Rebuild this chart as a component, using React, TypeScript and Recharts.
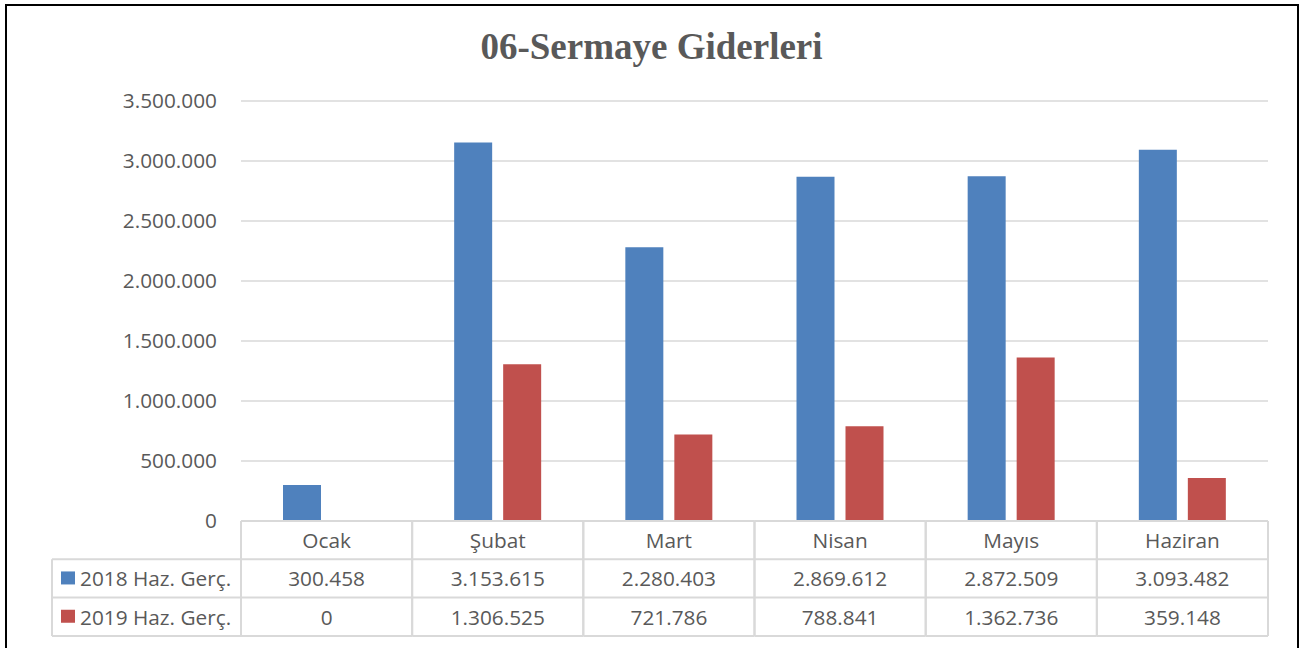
import { BarChart, Bar, XAxis, YAxis, CartesianGrid } from 'recharts';

const MONTHS = ['Ocak', 'Şubat', 'Mart', 'Nisan', 'Mayıs', 'Haziran'];
const HAZ_2018 = [300458, 3153615, 2280403, 2869612, 2872509, 3093482];
const HAZ_2019 = [0, 1306525, 721786, 788841, 1362736, 359148];
const SERIES_NAMES = ['2018 Haz. Gerç.', '2019 Haz. Gerç.'];
const Y_TICKS = [0, 500000, 1000000, 1500000, 2000000, 2500000, 3000000, 3500000];

const COLORS = ['#4F81BD', '#C0504D'];
const TEXT = '#595959';
const LINE = '#d9d9d9';
const FONT = '"Open Sans", "Liberation Sans", sans-serif';
const FONT_SIZE = 20.8;

const W = 1312;
const H = 648;
const MARGIN = { top: 101, right: 44, bottom: 0, left: 161 };
const Y_AXIS_W = 80;
const X_AXIS_H = 127;
const PLOT_W = W - MARGIN.left - MARGIN.right - Y_AXIS_W;
const COL_W = PLOT_W / MONTHS.length;
const ROW_H = 38.3;
const LEGEND_W = 189;

const fmt = (v: number) => String(v).replace(/\B(?=(\d{3})+(?!\d))/g, '.');

const chartData = MONTHS.map((m, i) => ({
  name: m,
  y2018: HAZ_2018[i],
  y2019: HAZ_2019[i],
}));

function TableTick(props: any) {
  const { x, y, payload } = props;
  const i = typeof props.index === 'number' ? props.index : MONTHS.indexOf(payload.value);
  const left = x - COL_W / 2;
  const right = x + COL_W / 2;
  const bottom = y + ROW_H * 3;
  const txt = {
    fill: TEXT,
    fontSize: FONT_SIZE,
    fontFamily: FONT,
    dominantBaseline: 'central' as const,
  };
  const values = [HAZ_2018, HAZ_2019];

  return (
    <g>
      <line x1={left} y1={y} x2={right} y2={y} stroke={LINE} strokeWidth={2} />
      {[1, 2, 3].map((r) => (
        <line key={r} x1={left} y1={y + ROW_H * r} x2={right} y2={y + ROW_H * r} stroke={LINE} strokeWidth={2} />
      ))}
      <line x1={left} y1={y} x2={left} y2={bottom} stroke={LINE} strokeWidth={2} />
      <line x1={right} y1={y} x2={right} y2={bottom} stroke={LINE} strokeWidth={2} />
      <text x={x} y={y + ROW_H / 2} textAnchor="middle" {...txt}>
        {MONTHS[i]}
      </text>
      {values.map((arr, r) => (
        <text key={r} x={x} y={y + ROW_H * (r + 1.5)} textAnchor="middle" {...txt}>
          {fmt(arr[i])}
        </text>
      ))}

      {/* lejant sütunu */}
      {i === 0 && (
        <g>
          {[1, 2, 3].map((r) => (
            <line key={r} x1={left - LEGEND_W} y1={y + ROW_H * r} x2={left} y2={y + ROW_H * r} stroke={LINE} strokeWidth={2} />
          ))}
          <line x1={left - LEGEND_W} y1={y + ROW_H} x2={left - LEGEND_W} y2={bottom} stroke={LINE} strokeWidth={2} />
          {SERIES_NAMES.map((s, r) => (
            <g key={s}>
              <rect x={left - LEGEND_W + 9} y={y + ROW_H * (r + 1.5) - 7} width={14} height={13} fill={COLORS[r]} />
              <text x={left - LEGEND_W + 28} y={y + ROW_H * (r + 1.5)} textAnchor="start" {...txt}>
                {s}
              </text>
            </g>
          ))}
        </g>
      )}
    </g>
  );
}

export default function App() {
  return (
    <div
      style={{
        position: 'absolute',
        left: 0,
        top: 0,
        width: W,
        height: H,
        background: '#fff',
        overflow: 'hidden',
      }}
    >
      <div
        style={{
          position: 'absolute',
          left: 5,
          top: 4,
          width: 1294,
          height: 700,
          border: '2px solid #000',
          boxSizing: 'border-box',
        }}
      />
      <div
        style={{
          position: 'absolute',
          left: 0,
          top: 28,
          width: 1303,
          textAlign: 'center',
          fontFamily: '"Liberation Serif", "Times New Roman", serif',
          fontWeight: 'bold',
          fontSize: 37,
          lineHeight: '37px',
          color: TEXT,
        }}
      >
        06-Sermaye Giderleri
      </div>
      <div style={{ position: 'absolute', left: 0, top: 0 }}>
        <BarChart width={W} height={H} data={chartData} margin={MARGIN} barGap={11}>
          <CartesianGrid vertical={false} stroke={LINE} strokeWidth={1.3} />
          <XAxis
            dataKey="name"
            height={X_AXIS_H}
            axisLine={false}
            tickLine={false}
            tickSize={0}
            tickMargin={0}
            interval={0}
            tick={<TableTick />}
          />
          <YAxis
            width={Y_AXIS_W}
            domain={[0, 3500000]}
            ticks={Y_TICKS}
            axisLine={false}
            tickLine={false}
            tickSize={0}
            tickMargin={24}
            tickFormatter={fmt}
            tick={{ fill: TEXT, fontSize: FONT_SIZE, fontFamily: FONT }}
          />
          <Bar dataKey="y2018" name={SERIES_NAMES[0]} fill={COLORS[0]} barSize={38} isAnimationActive={false} />
          <Bar dataKey="y2019" name={SERIES_NAMES[1]} fill={COLORS[1]} barSize={38} isAnimationActive={false} />
        </BarChart>
      </div>
    </div>
  );
}
